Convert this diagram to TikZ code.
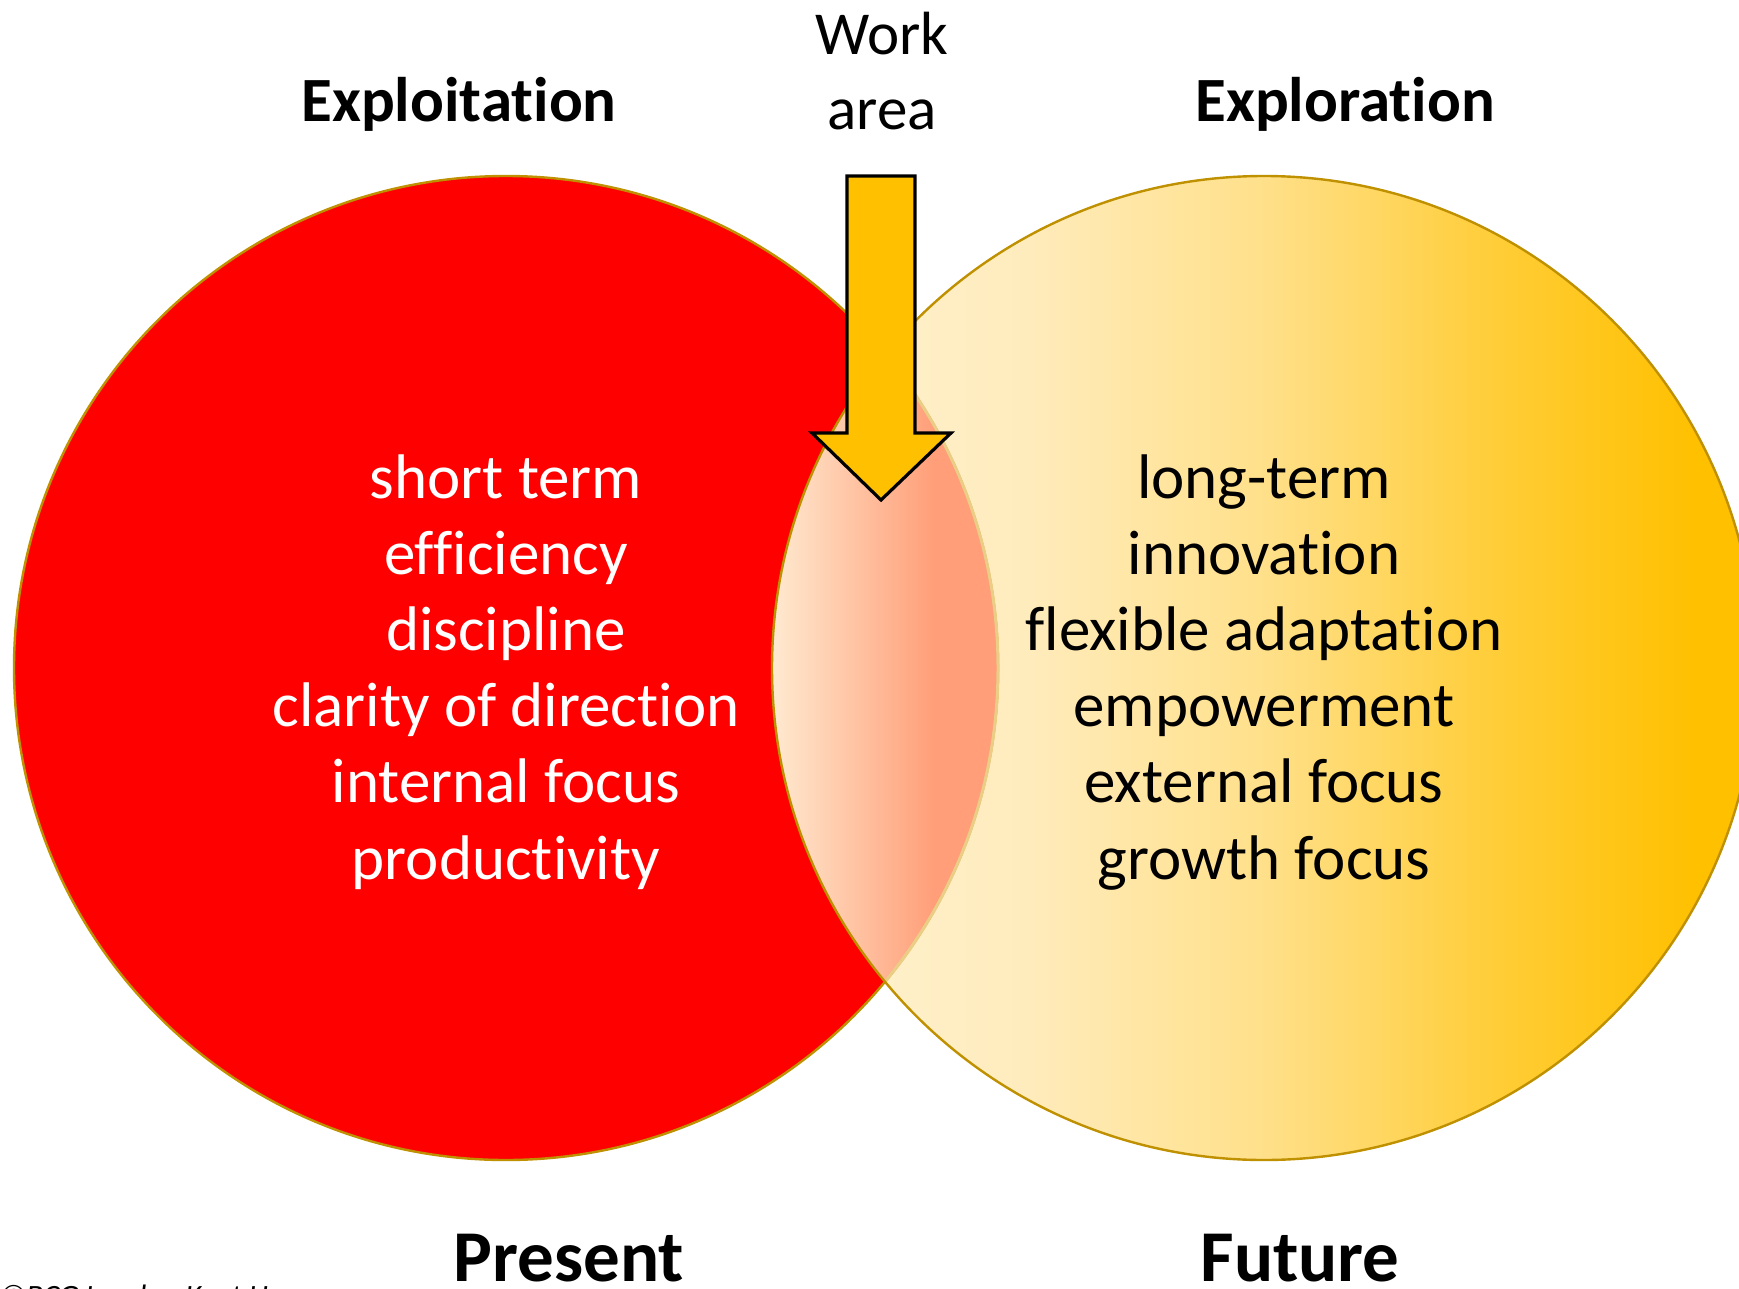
\documentclass[tikz,border=0pt]{standalone}
\usepackage{fontspec}
\setmainfont{Carlito}[Ligatures=NoCommon]
\usepackage{tikz}
\definecolor{rim}{HTML}{BF9000}
\definecolor{lensrim}{HTML}{EBCD86}
\definecolor{arrowgold}{HTML}{FFC000}
\definecolor{futA}{HTML}{FFF3D2}
\definecolor{futB}{HTML}{FFECBE}
\definecolor{futC}{HTML}{FFE08A}
\definecolor{futD}{HTML}{FFCC33}
\definecolor{futE}{HTML}{FFC000}
\definecolor{lensA}{HTML}{FFEAD0}
\definecolor{lensB}{HTML}{FF9E78}
\pgfdeclarehorizontalshading{futurefade}{100bp}{color(0bp)=(futA); color(25bp)=(futA); color(37.5bp)=(futB); color(50bp)=(futC); color(62.5bp)=(futD); color(72bp)=(futE); color(100bp)=(futE)}
\pgfdeclarehorizontalshading{lensfade}{100bp}{color(0bp)=(lensA); color(25bp)=(lensA); color(61bp)=(lensB); color(100bp)=(lensB)}
\newcommand{\ringradius}{492}

\begin{document}
\begin{tikzpicture}[x=0.5pt,y=-0.5pt,
	rimline/.style={draw=rim, line width=1.2pt},
	listtext/.style={anchor=base, inner sep=0pt, font=\fontsize{31.5}{38}\selectfont},
	headtext/.style={anchor=base, inner sep=0pt, font=\fontsize{31.5}{38}\selectfont\bfseries},
	timetext/.style={anchor=base, inner sep=0pt, font=\fontsize{36.5}{44}\selectfont\bfseries}]
	\useasboundingbox (0,0) rectangle (1739,1289);
	\coordinate (P) at (506,668);
	\coordinate (F) at (1264,668);

	% future ring first, the present ring lies on it
	\shade[shading=futurefade] (F) circle[radius=\ringradius];
	\path[fill=red, rimline] (P) circle[radius=\ringradius];
	% overlap of both rings
	\begin{scope}
		\clip (F) circle[radius=\ringradius];
		\clip (P) circle[radius=\ringradius];
		\shade[shading=lensfade] (772,170) rectangle (998,1170);
	\end{scope}
	\begin{scope}
		\clip (F) circle[radius=\ringradius];
		\draw[lensrim, line width=1.5pt] (P) circle[radius=\ringradius];
	\end{scope}
	\draw[rimline] (F) circle[radius=\ringradius];

	% work area arrow
	\draw[fill=arrowgold, line width=1.6pt, line join=miter]
		(847,176) -- (915,176) -- (915,433) -- (951,433) -- (881,500) -- (812,433) -- (847,433) -- cycle;

	\node[headtext] (exploit) at (459,122) {Exploitation};
	\node[headtext] (explore) at (1345,122) {Exploration};
	\node[listtext, font=\fontsize{30.5}{37}\selectfont] (work) at (882,55) {Work};
	\node[listtext, font=\fontsize{30.5}{37}\selectfont] (area) at (882,130) {area};

	\foreach \word [count=\i from 0] in {short term,efficiency,discipline,clarity of direction,internal focus,productivity}
		\node[listtext, text=white] (now\i) at (506,{498+76.2*\i}) {\word};
	\foreach \word [count=\i from 0] in {long-term,innovation,flexible adaptation,empowerment,external focus,growth focus}
		\node[listtext] (next\i) at (1264,{498+76.2*\i}) {\word};

	\node[timetext] (present) at (569,1281) {Present};
	\node[timetext] (future) at (1300,1281) {Future};
	\node[anchor=base west, inner sep=0pt, font=\fontsize{15.5}{18}\selectfont\itshape] (credit) at (0,1306) {©BCG London Kent H};
\end{tikzpicture}
\end{document}
